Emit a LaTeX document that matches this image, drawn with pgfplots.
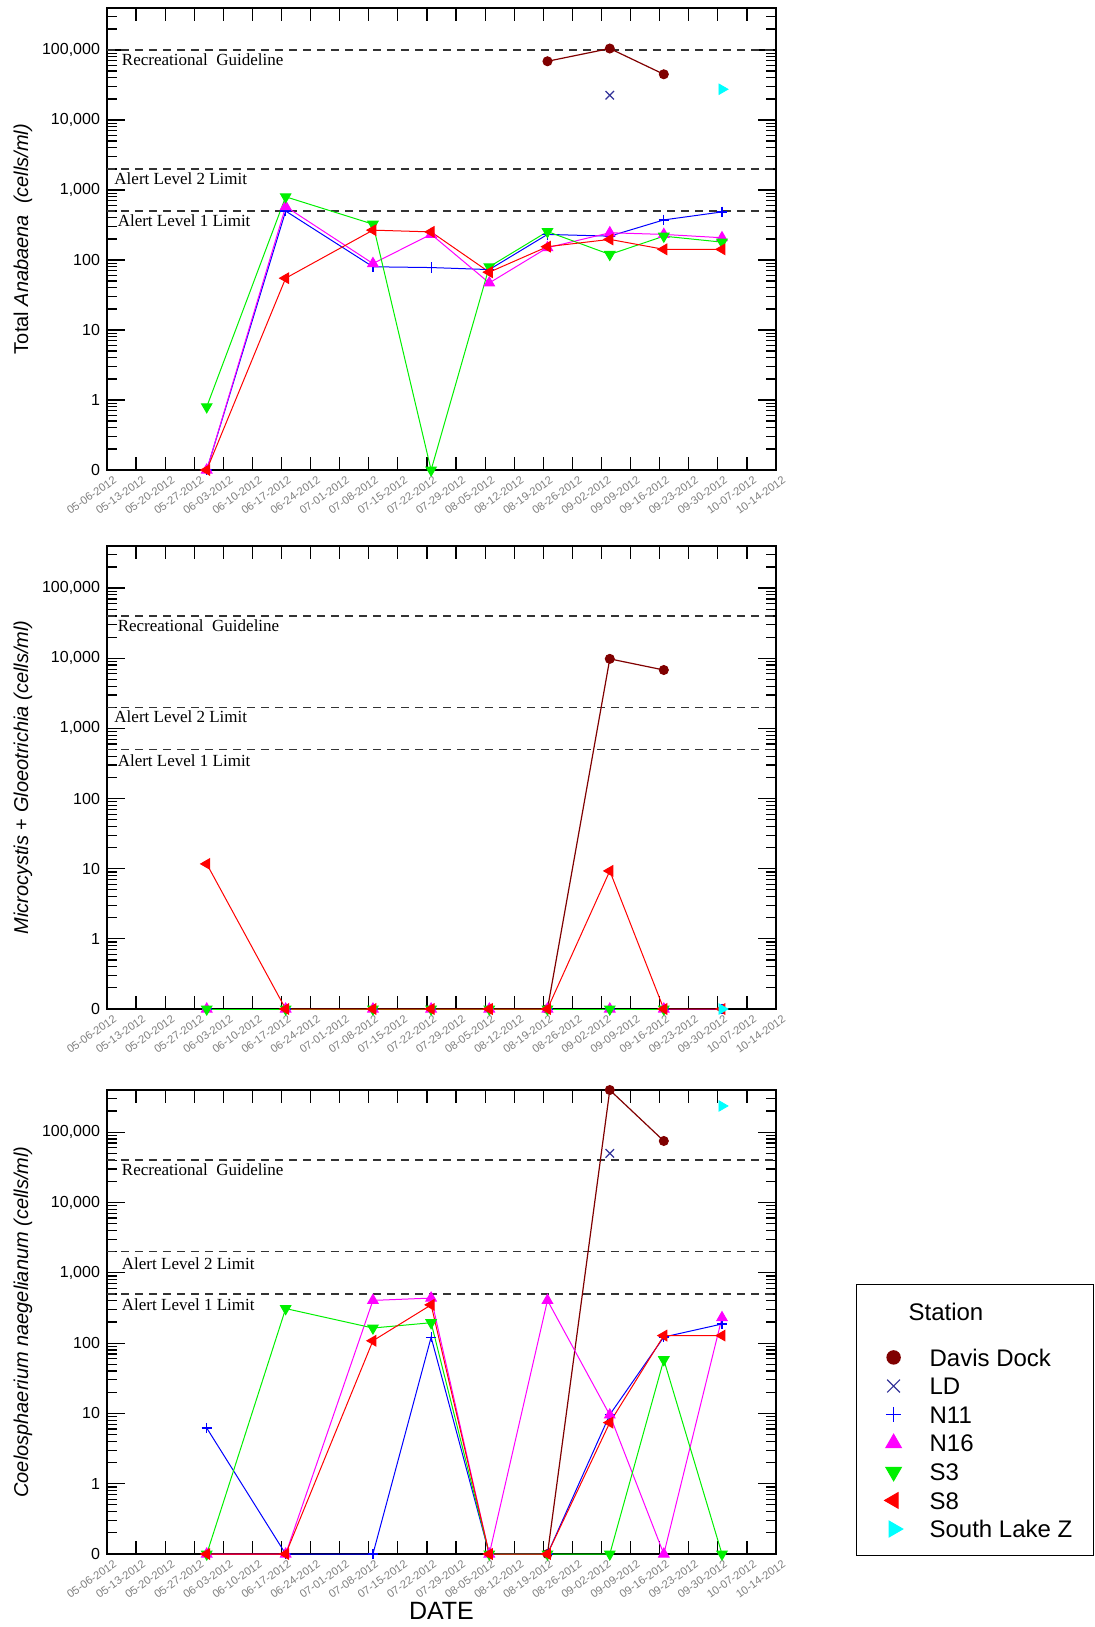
\documentclass[border=0pt]{standalone}
\usepackage{pgfplots}
\pgfplotsset{compat=1.18}
\usepackage{fontspec}
\setmainfont{Liberation Sans}
\newfontfamily\serifann{Liberation Serif}
\definecolor{ddock}{RGB}{128,0,0}
\definecolor{ldc}{RGB}{51,51,153}
\definecolor{n11c}{RGB}{0,0,255}
\definecolor{n16c}{RGB}{255,0,255}
\definecolor{s3c}{RGB}{0,240,0}
\definecolor{s8c}{RGB}{255,0,0}
\definecolor{slzc}{RGB}{0,255,255}
\newcommand\lstrut{\rule{0pt}{12.8pt}}
\newcommand\annfont{\serifann\fontsize{8.5}{8.5}\selectfont}
\pgfplotsset{
  refl/.style={black!80, line width=0.7pt, dash pattern=on 4pt off 3pt, forget plot},
  dd/.style={color=ddock, line width=0.6pt, mark=*, mark size=2.2pt, mark options={solid}},
  ld/.style={color=ldc, only marks, mark=x, mark size=3pt, mark options={line width=0.6pt}},
  n11/.style={color=n11c, line width=0.5pt, mark=+, mark size=2.6pt, mark options={line width=0.6pt}},
  n16/.style={color=n16c, line width=0.5pt, mark=triangle*, mark size=3pt},
  s3/.style={color=s3c, line width=0.5pt, mark=triangle*, mark size=3pt, mark options={rotate=180}},
  s8/.style={color=s8c, line width=0.5pt, mark=triangle*, mark size=3pt, mark options={rotate=90}},
  slz/.style={color=slzc, only marks, mark=triangle*, mark size=3pt, mark options={rotate=-90}},
  every axis/.append style={
    scale only axis, width=334.5pt,
    xmin=0, xmax=161,
    clip=false,
    axis line style={line width=0.9pt},
    tick pos=both, ticklabel pos=left,
    tick align=inside,
    xtick={0,7,...,161},
    xticklabels={05-06-2012,05-13-2012,05-20-2012,05-27-2012,06-03-2012,06-10-2012,06-17-2012,06-24-2012,07-01-2012,07-08-2012,07-15-2012,07-22-2012,07-29-2012,08-05-2012,08-12-2012,08-19-2012,08-26-2012,09-02-2012,09-09-2012,09-16-2012,09-23-2012,09-30-2012,10-07-2012,10-14-2012},
    xticklabel style={rotate=35, anchor=north east, font=\fontsize{5.6}{5.6}\selectfont, text=black!50, inner sep=0.5pt, xshift=1.5pt, yshift=-3.2pt},
    ytick={0.1,1,10,100,1000,10000,100000},
    yticklabels={0,1,10,100,{1,000},{10,000},{100,000}},
    minor ytick={0.2,0.3,0.4,0.5,0.6,0.7,0.8,0.9,2,3,4,5,6,7,8,9,20,30,40,50,60,70,80,90,200,300,400,500,600,700,800,900,2000,3000,4000,5000,6000,7000,8000,9000,20000,30000,40000,50000,60000,70000,80000,90000,200000,300000},
    yticklabel style={font=\fontsize{8}{8}\selectfont},
    xtick style={black, line width=0.6pt, /pgfplots/major tick length=6.5pt},
    ytick style={black, line width=0.6pt, /pgfplots/major tick length=9pt},
    minor tick style={black, line width=0.5pt},
    minor tick length=5pt,
    ylabel style={at={(axis description cs:-0.1256,0.5)}, anchor=center, font=\fontsize{10}{10}\selectfont},
  },
}
\begin{document}
\begin{tikzpicture}
\useasboundingbox (0pt,0pt) rectangle (547pt,-813.5pt);

% ---------------- Top panel ----------------
\begin{axis}[ymode=log, ymin=0.1, ymax=398107, height=231pt, at={(53.5pt,-4pt)}, anchor=north west,
  ylabel={Total \textit{Anabaena}\ \ \textit{(cells/ml)}}]
\addplot[refl] coordinates {(0,100000) (161,100000)};
\addplot[refl] coordinates {(0,2000) (161,2000)};
\addplot[refl] coordinates {(0,500) (161,500)};
\node[anchor=west, inner xsep=0pt, font=\annfont] at (axis cs:3.5,73600) {Recreational\ \ Guideline};
\node[anchor=west, inner xsep=0pt, font=\annfont] at (axis cs:1.7,1470) {Alert Level 2 Limit};
\node[anchor=west, inner xsep=0pt, font=\annfont] at (axis cs:2.5,368) {Alert Level 1 Limit};
\addplot[dd] coordinates {(106,69000) (121,105000) (134,45000)};
\addplot[ld] coordinates {(121,22600)};
\addplot[n11] coordinates {(24,0.1) (43,500) (64,80) (78,78) (92,73) (106,232) (121,219) (134,374) (148,486)};
\addplot[n16] coordinates {(24,0.1) (43,580) (64,89) (78,233) (92,47) (106,150) (121,245) (134,232) (148,208)};
\addplot[s3] coordinates {(24,0.8) (43,800) (64,325) (78,0.1) (92,80) (106,255) (121,120) (134,219) (148,180)};
\addplot[s8] coordinates {(24,0.1) (43,55) (64,267) (78,252) (92,67) (106,155) (121,197) (134,142) (148,142)};
\addplot[slz] coordinates {(148,27500)};
\end{axis}

% ---------------- Middle panel ----------------
\begin{axis}[ymode=log, ymin=0.1, ymax=398107, height=231.5pt, at={(53.5pt,-273pt)}, anchor=north west,
  ylabel={\textit{Microcystis} + \textit{Gloeotrichia (cells/ml)}}]
\addplot[refl] coordinates {(0,40000) (161,40000)};
\addplot[refl] coordinates {(0,2000) (161,2000)};
\addplot[refl] coordinates {(0,500) (161,500)};
\node[anchor=west, inner xsep=0pt, font=\annfont] at (axis cs:2.5,29400) {Recreational\ \ Guideline};
\node[anchor=west, inner xsep=0pt, font=\annfont] at (axis cs:1.7,1470) {Alert Level 2 Limit};
\node[anchor=west, inner xsep=0pt, font=\annfont] at (axis cs:2.5,343) {Alert Level 1 Limit};
\addplot[dd] coordinates {(106,0.1) (121,9800) (134,6800)};
\addplot[n11] coordinates {(24,0.1) (43,0.1) (64,0.1) (78,0.1) (92,0.1) (106,0.1) (121,0.1) (134,0.1) (148,0.1)};
\addplot[n16] coordinates {(24,0.1) (43,0.1) (64,0.1) (78,0.1) (92,0.1) (106,0.1) (121,0.1) (134,0.1)};
\addplot[s3] coordinates {(24,0.1) (43,0.1) (64,0.1) (78,0.1) (92,0.1) (106,0.1) (121,0.1) (134,0.1)};
\addplot[s8] coordinates {(24,11.7) (43,0.1) (64,0.1) (78,0.1) (92,0.1) (106,0.1) (121,9.3) (134,0.1) (148,0.1)};
\addplot[slz] coordinates {(148,0.1)};
\end{axis}

% ---------------- Bottom panel ----------------
\begin{axis}[ymode=log, ymin=0.1, ymax=398107, height=232pt, at={(53.5pt,-545pt)}, anchor=north west,
  ylabel={\textit{Coelosphaerium naegelianum (cells/ml)}},
  xlabel={DATE},
  xlabel style={at={(axis description cs:0.5,0)}, anchor=center, yshift=-28.5pt, font=\fontsize{12.5}{12.5}\selectfont},
  legend image code/.code={\path[draw=none, fill=none] (-18.5pt,0pt) rectangle (18pt,8pt); \draw[#1, only marks, every mark/.append style={scale=1.5}] plot coordinates {(0pt,4.3pt)};},
  legend style={at={(axis description cs:1.1196,0.5819)}, anchor=north west,
    draw=black, line width=0.6pt, inner xsep=0pt, inner ysep=0pt,
    row sep=0pt, column sep=0pt,
    cells={anchor=base west},
    nodes={inner sep=0pt},
    font=\fontsize{12}{12}\selectfont},
]
\addplot[refl] coordinates {(0,40000) (161,40000)};
\addplot[refl] coordinates {(0,2000) (161,2000)};
\addplot[refl] coordinates {(0,500) (161,500)};
\node[anchor=west, inner xsep=0pt, font=\annfont] at (axis cs:3.5,29400) {Recreational\ \ Guideline};
\node[anchor=west, inner xsep=0pt, font=\annfont] at (axis cs:3.5,1370) {Alert Level 2 Limit};
\node[anchor=west, inner xsep=0pt, font=\annfont] at (axis cs:3.5,356) {Alert Level 1 Limit};
\addlegendimage{empty legend}
\addlegendentry{\hspace*{-10.5pt}\rule{0pt}{17.8pt}Station}
\addplot[dd] coordinates {(106,0.1) (121,398000) (134,75000)};
\addlegendentry{\rule{0pt}{21.4pt}\makebox[82pt][l]{Davis Dock}}
\addplot[ld] coordinates {(121,50000)};
\addlegendentry{\lstrut LD}
\addplot[n11] coordinates {(24,6.2) (43,0.1) (64,0.1) (78,121) (92,0.1) (106,0.1) (121,9.6) (134,122) (148,187)};
\addlegendentry{\lstrut N11}
\addplot[n16] coordinates {(24,0.1) (43,0.1) (64,405) (78,437) (92,0.1) (106,405) (121,9.5) (134,0.1) (148,230)};
\addlegendentry{\lstrut N16}
\addplot[s3] coordinates {(24,0.1) (43,310) (64,164) (78,195) (92,0.1) (106,0.1) (121,0.1) (134,58) (148,0.1)};
\addlegendentry{\lstrut S3}
\addplot[s8] coordinates {(24,0.1) (43,0.1) (64,108) (78,350) (92,0.1) (106,0.1) (121,7.4) (134,128) (148,128)};
\addlegendentry{\lstrut S8}
\addplot[slz] coordinates {(148,236000)};
\addlegendentry{\lstrut South Lake Z}
\addlegendimage{empty legend}
\addlegendentry{\rule{0pt}{5.9pt}}
\end{axis}
\end{tikzpicture}
\end{document}
